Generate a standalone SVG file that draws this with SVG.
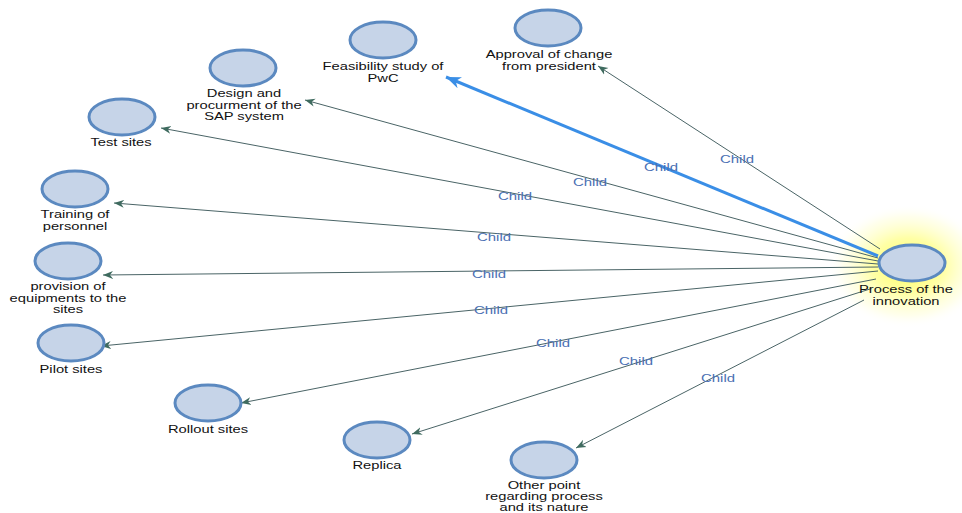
<svg xmlns="http://www.w3.org/2000/svg" width="962" height="513" viewBox="0 0 962 513">
<defs>
<radialGradient id="glow" cx="0.5" cy="0.5" r="0.5">
<stop offset="0" stop-color="#ffff55" stop-opacity="1"/>
<stop offset="0.45" stop-color="#ffff88" stop-opacity="0.75"/>
<stop offset="0.8" stop-color="#ffffc8" stop-opacity="0.35"/>
<stop offset="1" stop-color="#ffffff" stop-opacity="0"/>
</radialGradient>
<marker id="arr" viewBox="0 0 10 10" refX="10" refY="5" markerWidth="10" markerHeight="10" markerUnits="userSpaceOnUse" orient="auto">
<path d="M0,1 L10,5 L0,9 L3,5 Z" fill="#3f6b5f"/>
</marker>
<marker id="arrb" viewBox="0 0 10 10" refX="10" refY="5" markerWidth="5" markerHeight="5" orient="auto">
<path d="M0,1 L10,5 L0,9 L3,5 Z" fill="#3a8ee6"/>
</marker>
</defs>
<style>
.n{fill:#c6d4e8;stroke:#5b89c0;stroke-width:3}
.t{font-family:"Liberation Sans",Arial,sans-serif;font-size:10.5px;fill:#111;text-anchor:middle}
.e{stroke:#4a6466;stroke-width:1;fill:none;marker-end:url(#arr)}
.eb{stroke:#3a8ee6;stroke-width:3;fill:none;marker-end:url(#arrb)}
.l{font-family:"Liberation Sans",Arial,sans-serif;font-size:11.5px;fill:#4a6fb3;text-anchor:middle}
</style>
<rect width="962" height="513" fill="#ffffff"/>
<ellipse cx="908" cy="266" rx="80" ry="62" fill="url(#glow)"/>
<g id="edges">
<line class="e" x1="880" y1="249" x2="598" y2="66"/>
<line class="e" x1="878" y1="258" x2="305" y2="100"/>
<line class="e" x1="878" y1="261" x2="161" y2="128"/>
<line class="e" x1="878" y1="264" x2="114" y2="203"/>
<line class="e" x1="878" y1="267" x2="103" y2="275"/>
<line class="e" x1="878" y1="271" x2="101" y2="346"/>
<line class="e" x1="876" y1="279" x2="241" y2="403"/>
<line class="e" x1="870" y1="289" x2="412" y2="434"/>
<line class="e" x1="864" y1="300" x2="576" y2="448"/>
<line class="eb" x1="878" y1="256" x2="446" y2="77"/>
<text class="l" transform="translate(737,163) scale(1.3,1)">Child</text>
<text class="l" transform="translate(661,171) scale(1.3,1)">Child</text>
<text class="l" transform="translate(590,186) scale(1.3,1)">Child</text>
<text class="l" transform="translate(515,200) scale(1.3,1)">Child</text>
<text class="l" transform="translate(494,241) scale(1.3,1)">Child</text>
<text class="l" transform="translate(489,278) scale(1.3,1)">Child</text>
<text class="l" transform="translate(491,314) scale(1.3,1)">Child</text>
<text class="l" transform="translate(553,347) scale(1.3,1)">Child</text>
<text class="l" transform="translate(636,365) scale(1.3,1)">Child</text>
<text class="l" transform="translate(718,382) scale(1.3,1)">Child</text>
</g>
<g id="process">
<ellipse class="n" cx="912" cy="263" rx="33" ry="18"/>
<text class="t" transform="translate(906,293) scale(1.4,1)">Process of the</text>
<text class="t" transform="translate(906,304.5) scale(1.4,1)">innovation</text>
</g>
<g id="approval">
<ellipse class="n" cx="548" cy="28" rx="33" ry="18"/>
<text class="t" transform="translate(549,58) scale(1.4,1)">Approval of change</text>
<text class="t" transform="translate(549,70) scale(1.4,1)">from president</text>
</g>
<g id="feasibility">
<ellipse class="n" cx="383" cy="40" rx="33" ry="18"/>
<text class="t" transform="translate(383,70) scale(1.4,1)">Feasibility study of</text>
<text class="t" transform="translate(383,81.5) scale(1.4,1)">PwC</text>
</g>
<g id="design">
<ellipse class="n" cx="243" cy="68" rx="33" ry="18"/>
<text class="t" transform="translate(244,97) scale(1.4,1)">Design and</text>
<text class="t" transform="translate(244,108.5) scale(1.4,1)">procurment of the</text>
<text class="t" transform="translate(244,120) scale(1.4,1)">SAP system</text>
</g>
<g id="test">
<ellipse class="n" cx="122" cy="117" rx="33" ry="18"/>
<text class="t" transform="translate(121,146) scale(1.4,1)">Test sites</text>
</g>
<g id="training">
<ellipse class="n" cx="75" cy="189" rx="33" ry="18"/>
<text class="t" transform="translate(75,218) scale(1.4,1)">Training of</text>
<text class="t" transform="translate(75,229.5) scale(1.4,1)">personnel</text>
</g>
<g id="provision">
<ellipse class="n" cx="68" cy="261" rx="33" ry="18"/>
<text class="t" transform="translate(68,290) scale(1.4,1)">provision of</text>
<text class="t" transform="translate(68,301.5) scale(1.4,1)">equipments to the</text>
<text class="t" transform="translate(68,313) scale(1.4,1)">sites</text>
</g>
<g id="pilot">
<ellipse class="n" cx="71" cy="343" rx="33" ry="18"/>
<text class="t" transform="translate(71,373) scale(1.4,1)">Pilot sites</text>
</g>
<g id="rollout">
<ellipse class="n" cx="208" cy="403" rx="33" ry="18"/>
<text class="t" transform="translate(208,433) scale(1.4,1)">Rollout sites</text>
</g>
<g id="replica">
<ellipse class="n" cx="377" cy="440" rx="33" ry="18"/>
<text class="t" transform="translate(377,469) scale(1.4,1)">Replica</text>
</g>
<g id="other">
<ellipse class="n" cx="544" cy="460" rx="33" ry="18"/>
<text class="t" transform="translate(544,489) scale(1.4,1)">Other point</text>
<text class="t" transform="translate(544,500) scale(1.4,1)">regarding process</text>
<text class="t" transform="translate(544,511) scale(1.4,1)">and its nature</text>
</g>
</svg>
